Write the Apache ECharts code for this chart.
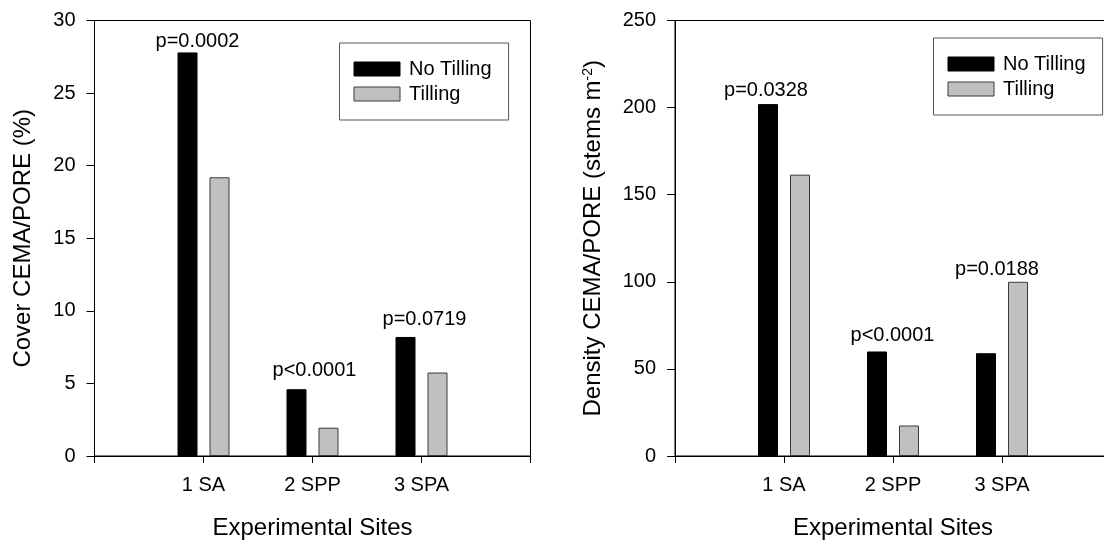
<!DOCTYPE html>
<html><head><meta charset="utf-8">
<script src="https://cdn.jsdelivr.net/npm/echarts@6/dist/echarts.min.js"></script>
<style>html,body{margin:0;padding:0;background:#fff}#c{width:1104px;height:541px}</style>
</head><body><div id="c"></div>
<script>
// ---- data ----
const sites = ['1 SA', '2 SPP', '3 SPA'];
const seriesNames = ['No Tilling', 'Tilling'];
const coverNoTill = [27.8, 4.6, 8.2];
const coverTill = [19.2, 1.95, 5.75];
const densityNoTill = [202, 60, 59];
const densityTill = [161.5, 17.5, 100];
const coverTicks = [0, 5, 10, 15, 20, 25, 30];
const densityTicks = [0, 50, 100, 150, 200, 250];
const coverPValues = ['p=0.0002', 'p<0.0001', 'p=0.0719'];
const coverPOn = ['No Tilling', 'No Tilling', 'No Tilling'];
const densityPValues = ['p=0.0328', 'p<0.0001', 'p=0.0188'];
const densityPOn = ['No Tilling', 'No Tilling', 'Tilling'];

// ---- styling ----
const FONT = 'Liberation Sans, Arial, sans-serif';
const coverPStyle = [{dx: 10, dist: 1}, {dx: 18, dist: 9}, {dx: 19, dist: 7}];
const densityPStyle = [{dx: -2, dist: 3.5}, {dx: 15.5, dist: 5.5}, {dx: -21, dist: 2.5}];
const colors = {'No Tilling': '#000000', 'Tilling': '#c0c0c0'};
const borders = {'No Tilling': '#000000', 'Tilling': '#3a3a3a'};

const chart = echarts.init(document.getElementById('c'), null, {renderer: 'canvas'});

function xAxisFor(gi) {
  return {
    type: 'value', gridIndex: gi, min: 0, max: sites.length + 1, interval: 1,
    axisLine: {show: true, lineStyle: {color: '#000', width: 1}},
    axisTick: {show: true, length: 7, lineStyle: {color: '#000'}},
    axisLabel: {margin: 19, fontSize: 20, fontFamily: FONT, color: '#000',
      formatter: v => sites[v - 1] || '', showMinLabel: true, showMaxLabel: true},
    splitLine: {show: false},
    name: 'Experimental Sites', nameLocation: 'middle', nameGap: 60,
    nameTextStyle: {fontSize: 24, fontFamily: FONT, color: '#000'}
  };
}
function yAxisFor(gi, ticks, name, gap) {
  return {
    type: 'value', gridIndex: gi, min: ticks[0], max: ticks[ticks.length - 1],
    interval: ticks[1] - ticks[0],
    axisLine: {show: true, lineStyle: {color: '#000', width: 1}},
    axisTick: {show: true, length: 8, lineStyle: {color: '#000'}},
    axisLabel: {margin: 19, fontSize: 20, fontFamily: FONT, color: '#000'},
    splitLine: {show: false},
    name: name, nameLocation: 'middle', nameGap: gap,
    nameTextStyle: {fontSize: 24, fontFamily: FONT, color: '#000',
      rich: {sup: {fontSize: 14, fontFamily: FONT, color: '#000', verticalAlign: 'top'}}}
  };
}
function barSeries(name, vals, gi, pvals, pOn, pStyle) {
  return {
    type: 'bar', name: name, xAxisIndex: gi, yAxisIndex: gi,
    barWidth: 20, barGap: '60%',
    itemStyle: {color: colors[name], borderColor: borders[name], borderWidth: 1},
    emphasis: {disabled: true},
    data: vals.map((v, i) => {
      const item = {value: [i + 1, v]};
      if (pOn[i] === name) {
        item.label = {show: true, position: 'top', formatter: pvals[i],
          distance: pStyle[i].dist, offset: [pStyle[i].dx, 0],
          fontSize: 20, fontFamily: FONT, color: '#000'};
      }
      return item;
    })
  };
}
function legendFor(left, top) {
  return {
    show: true, orient: 'vertical', left: left, top: top,
    data: seriesNames, icon: 'rect', itemWidth: 46, itemHeight: 14, itemGap: 5,
    itemStyle: {borderWidth: 1},
    padding: [16, 17, 16, 14], borderColor: '#555', borderWidth: 1,
    textStyle: {fontSize: 20, fontFamily: FONT, color: '#000', padding: [0, 0, 0, 4]},
    selectedMode: false
  };
}

chart.setOption({
  animation: false,
  backgroundColor: '#fff',
  grid: [
    {left: 94.5, top: 20.5, width: 436, height: 435.5, show: true, borderColor: '#000', borderWidth: 1,
     backgroundColor: 'transparent', outerBoundsMode: 'none', containLabel: false},
    {left: 675, top: 20.5, width: 436, height: 435.5, show: true, borderColor: '#000', borderWidth: 1,
     backgroundColor: 'transparent', outerBoundsMode: 'none', containLabel: false}
  ],
  xAxis: [xAxisFor(0), xAxisFor(1)],
  yAxis: [
    yAxisFor(0, coverTicks, 'Cover CEMA/PORE (%)', 59),
    yAxisFor(1, densityTicks, 'Density CEMA/PORE (stems m{sup|-2})', 70)
  ],
  legend: [legendFor(339.5, 43), legendFor(933.5, 38)],
  series: [
    barSeries('No Tilling', coverNoTill, 0, coverPValues, coverPOn, coverPStyle),
    barSeries('Tilling', coverTill, 0, coverPValues, coverPOn, coverPStyle),
    barSeries('No Tilling', densityNoTill, 1, densityPValues, densityPOn, densityPStyle),
    barSeries('Tilling', densityTill, 1, densityPValues, densityPOn, densityPStyle)
  ]
});
</script></body></html>
